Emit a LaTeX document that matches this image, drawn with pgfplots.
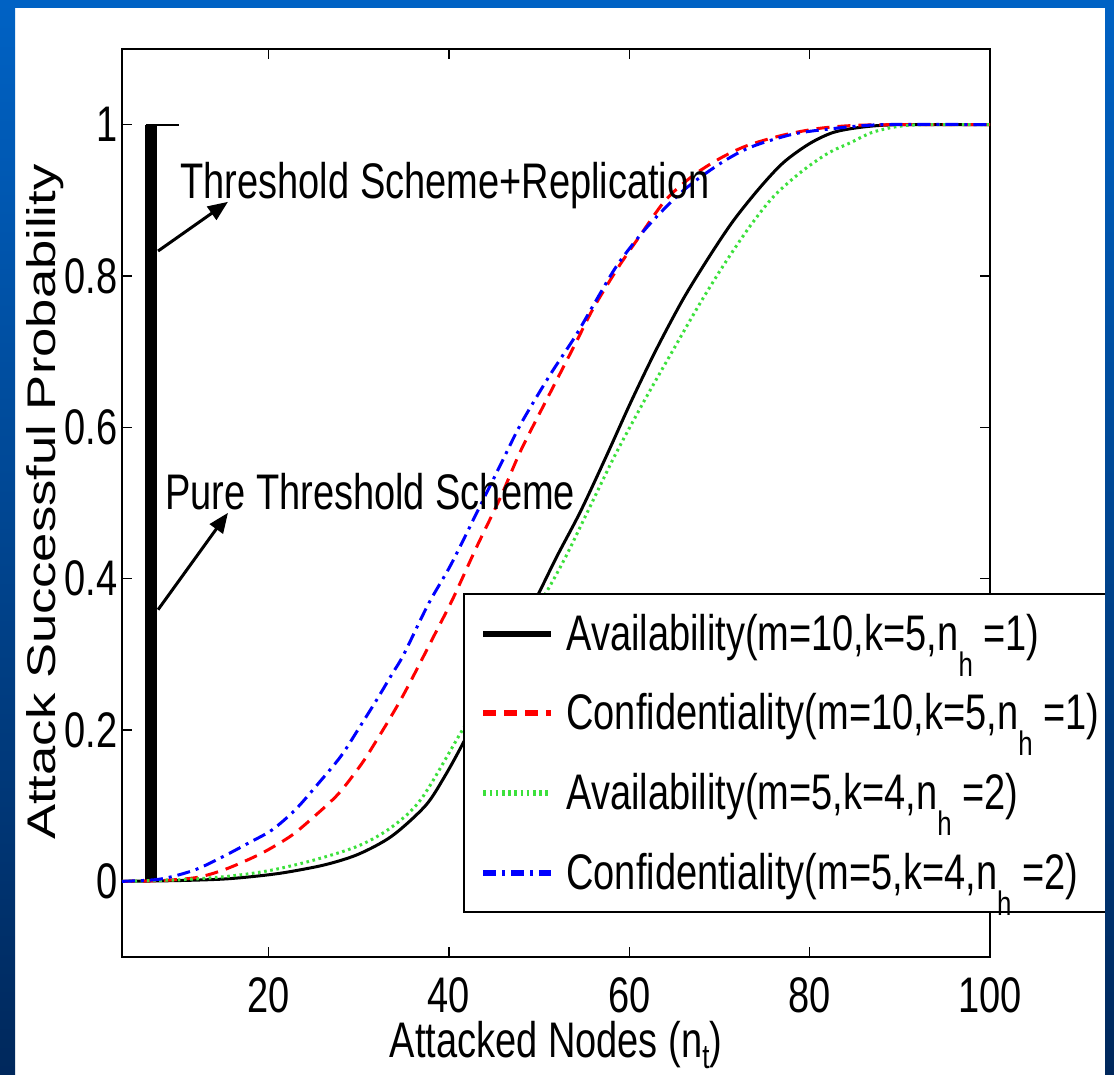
\documentclass[border=0pt]{standalone}
\usepackage{fontspec}
\setmainfont{Liberation Sans}[FakeStretch=0.76]
\newfontfamily\plainfont{Liberation Sans}
\usepackage{pgfplots}
\pgfplotsset{compat=1.18}
\usetikzlibrary{arrows.meta}
\definecolor{slideblue}{RGB}{0,98,196}
\definecolor{slidenavy}{RGB}{0,40,92}
\definecolor{lgreen}{RGB}{60,225,60}
\newcommand{\sub}[1]{\raisebox{-13pt}[0pt][0pt]{\fontsize{17}{17}\selectfont #1}}
\newcommand{\bigfont}{\fontsize{25}{30}\selectfont}

\begin{document}
\begin{tikzpicture}
\useasboundingbox (0,0) rectangle (557pt,537.5pt);
\fill[white] (0,0) rectangle (557pt,537.5pt);
\begin{axis}[at={(61pt,59pt)}, anchor=south west, scale only axis,
             width=434pt, height=454pt,
             xmin=3.75, xmax=100, ymin=-0.1, ymax=1.1,
             xtick={20,40,60,80,100}, ytick={0,0.2,0.4,0.6,0.8,1},
             xtick pos=both, ytick pos=both,
             xticklabel pos=lower, yticklabel pos=left,
             tick align=inside, major tick length=5pt,
             tick style={black, line width=0.6pt},
             axis line style={line width=1pt},
             /pgf/number format/assume math mode=true,
             ticklabel style={font=\bigfont, inner sep=1pt},
             xticklabel style={yshift=-9pt},
             yticklabel style={xshift=-1pt},
             xlabel={Attacked Nodes (n\raisebox{-5.5pt}[0pt][0pt]{\fontsize{17}{17}\selectfont t})},
             xlabel style={font=\bigfont, at={(axis description cs:0.5,-0.111)}, anchor=base},
             ylabel={\plainfont\scalebox{1}[0.76]{Attack Successful Probability}},
             ylabel style={font=\fontsize{26.3}{30}\selectfont, at={(axis description cs:-0.0887,0.501)}, anchor=center},
             legend style={at={(axis cs:41.6,0.381)}, anchor=north west,
                           draw=black, line width=1pt, fill=white,
                           font=\bigfont, cells={anchor=west},
                           inner xsep=8pt, inner ysep=8pt, row sep=16.2pt, column sep=4pt},
             legend image code/.code={\draw[#1, line width=3pt] (0pt,0pt) -- (34pt,0pt);}]

  % the two schemes, drawn as a bar at n_t = 7
  \addplot[black, line width=6pt, forget plot] coordinates {(7,0) (7,1)};
  \addplot[black, line width=1pt, forget plot] coordinates {(6.4,1) (10.1,1)};

  \addplot[black, line width=1.5pt, smooth, tension=0.5] coordinates {
    (3.75,0) (10,0.001) (15,0.003) (18.8,0.007) (22,0.012) (26.3,0.022)
    (30,0.036) (33.7,0.06) (37.4,0.1) (39.5,0.138) (41.5,0.181) (44,0.24)
    (47,0.31) (50.1,0.384) (52,0.43) (54.6,0.489) (57.5,0.563) (60.2,0.634)
    (63,0.703) (66,0.77) (69,0.828) (71.6,0.874) (74.5,0.917) (77.1,0.95)
    (80,0.975) (82.7,0.99) (86,0.997) (90,1) (100,1)};
  \addlegendentry{Availability(m=10,k=5,n\sub{h} =1)}

  \addplot[red, line width=1.5pt, smooth, tension=0.5, dash pattern=on 6.5pt off 4pt] coordinates {
    (3.75,0) (8,0.001) (12,0.005) (15,0.015) (18,0.03) (20,0.042) (22.6,0.061)
    (25,0.085) (27.7,0.115) (30,0.15) (31.5,0.177) (34.8,0.243) (38.8,0.335)
    (40.5,0.375) (43,0.44) (45.7,0.507) (48,0.57) (51.2,0.645) (54,0.71)
    (56,0.757) (58.7,0.81) (61,0.85) (64,0.9) (67,0.932) (70,0.955)
    (73,0.972) (77,0.986) (81,0.995) (85,0.999) (90,1) (100,1)};
  \addlegendentry{Confidentiality(m=10,k=5,n\sub{h} =1)}

  \addplot[lgreen, line width=1.5pt, smooth, tension=0.5, dash pattern=on 1.3pt off 1.8pt] coordinates {
    (3.75,0) (10,0.002) (15,0.006) (20,0.014) (25,0.028) (30,0.047) (33.7,0.072)
    (37,0.11) (41.5,0.2) (44,0.245) (47,0.305) (50.9,0.384) (53,0.43)
    (55.4,0.489) (58.5,0.565) (61.8,0.638) (65,0.705) (67.8,0.763) (70.5,0.815)
    (73.4,0.866) (76,0.905) (79,0.937) (82,0.962) (84.5,0.976) (87,0.99)
    (90,0.998) (93,1) (100,1)};
  \addlegendentry{Availability(m=5,k=4,n\sub{h} =2)}

  \addplot[blue, line width=1.5pt, smooth, tension=0.5, dash pattern=on 6.5pt off 3pt on 1.5pt off 3pt] coordinates {
    (3.75,0) (8,0.003) (11.8,0.015) (15,0.033) (18,0.052) (20.4,0.068) (23,0.095)
    (25.5,0.129) (28,0.165) (29.9,0.2) (32,0.24) (33.7,0.274) (35,0.3)
    (37.7,0.366) (40.2,0.418) (43,0.485) (45.7,0.55) (48,0.605) (51.2,0.669)
    (54,0.72) (56,0.761) (58.7,0.815) (62,0.865) (66,0.913) (70,0.948)
    (73.4,0.97) (78,0.987) (82,0.994) (88,1) (100,1)};
  \addlegendentry{Confidentiality(m=5,k=4,n\sub{h} =2)\rule[-10.5pt]{0pt}{0pt}}

  % annotations
  \draw[line width=1.5pt, -{Triangle[length=10pt, width=8pt]}] (axis cs:7.75,0.833) -- (axis cs:15.5,0.898);
  \node[anchor=base west, font=\bigfont, inner sep=0pt] at (axis cs:10.2,0.902) {Threshold Scheme+Replication};
  \draw[line width=1.5pt, -{Triangle[length=10pt, width=8pt]}] (axis cs:7.75,0.359) -- (axis cs:15.5,0.487);
  \node[anchor=base west, font=\bigfont, inner sep=0pt] at (axis cs:8.5,0.491) {Pure Threshold Scheme};
\end{axis}
% slide background border
\shade[top color=slideblue, bottom color=slidenavy] (0,0) rectangle (7.5pt,537.5pt);
\shade[top color=slideblue, bottom color=slidenavy] (552.5pt,0) rectangle (557pt,537.5pt);
\fill[slideblue] (0,533.5pt) rectangle (557pt,537.5pt);
\end{tikzpicture}
\end{document}
